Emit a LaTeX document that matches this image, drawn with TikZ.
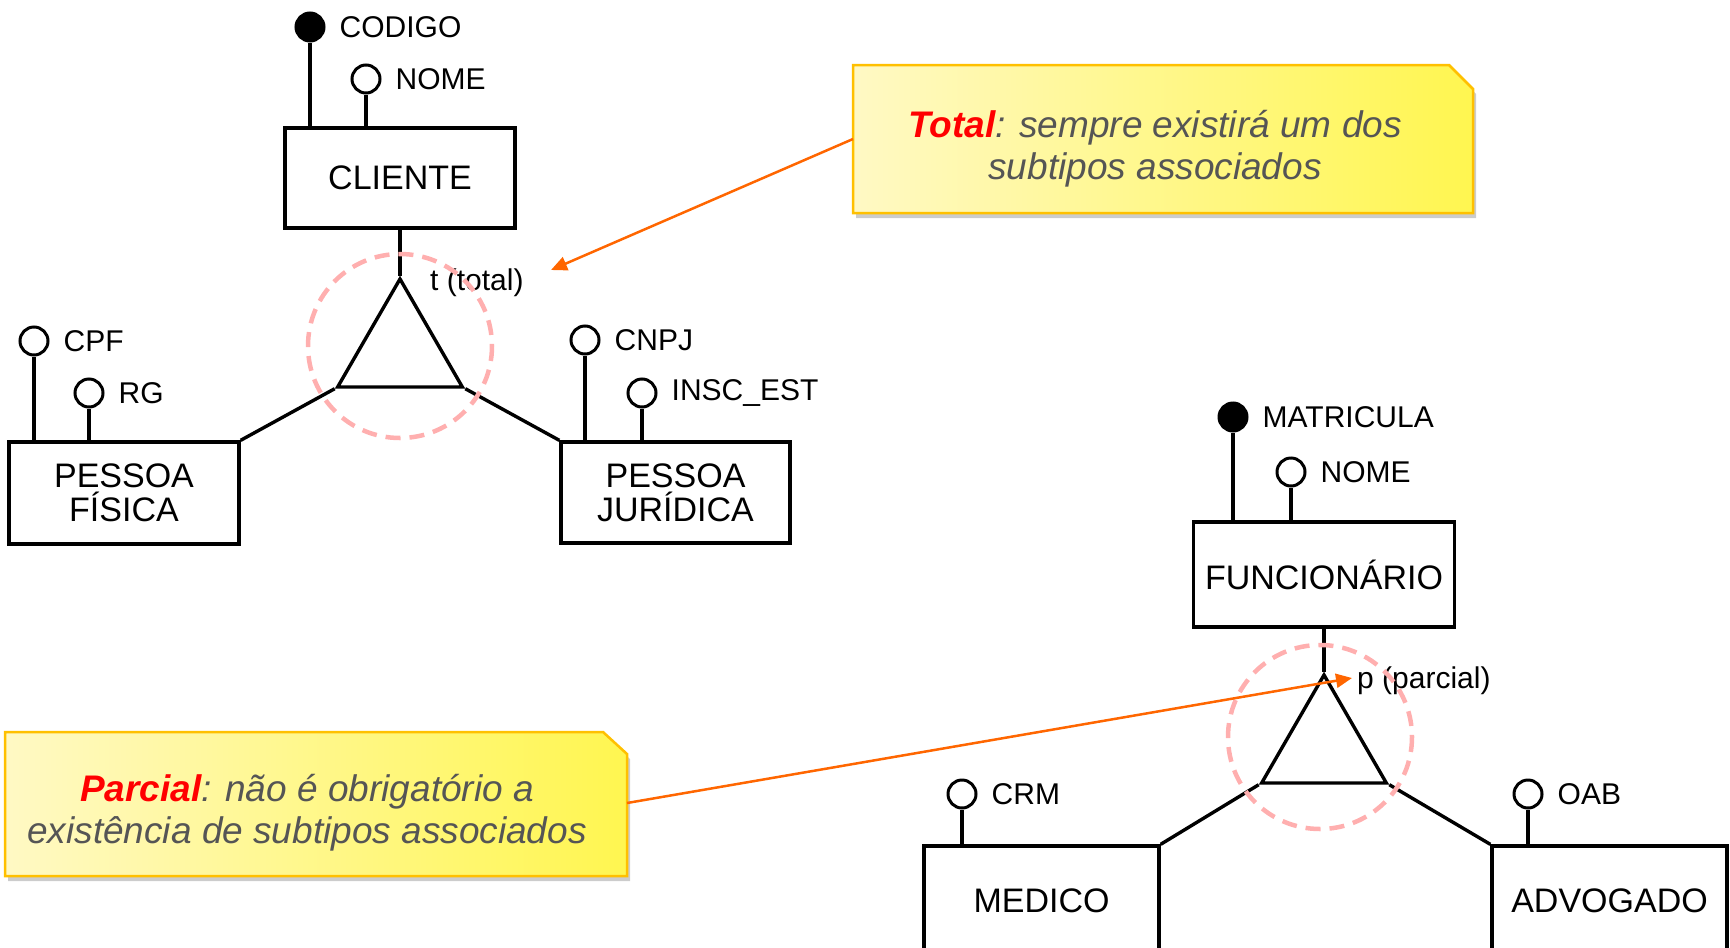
\documentclass[tikz,border=0pt]{standalone}
\usepackage{fontspec}
\setmainfont{Liberation Sans}
\usepackage{tikz}
\usetikzlibrary{arrows.meta, positioning, shapes.geometric, shadows}
\definecolor{noteedge}{RGB}{255,192,0}
\definecolor{noteleft}{RGB}{255,249,196}
\definecolor{noteright}{RGB}{255,246,80}
\definecolor{notegray}{RGB}{85,85,85}
\definecolor{pointerorange}{RGB}{255,102,0}
\definecolor{ringpink}{RGB}{255,175,175}

\begin{document}
\begin{tikzpicture}[x=1pt, y=-1pt,
        entity/.style={draw, line width=3.4pt, inner sep=0pt, align=center, font=\fontsize{34}{34}\selectfont},
        attr/.style={circle, draw, line width=3pt, fill=white, minimum size=28pt, inner sep=0pt,
            label={[font=\fontsize{30}{30}\selectfont, label distance=12pt, inner sep=2pt]east:#1}},
        keyattr/.style={attr=#1, fill=black},
        spec/.style={regular polygon, regular polygon sides=3, draw, line width=3.4pt, minimum size=144pt, inner sep=0pt},
        link/.style={line width=3.4pt},
        ring/.style={draw=ringpink, line width=4.5pt, dash pattern=on 15pt off 9pt},
        note/.style={draw=noteedge, line width=2.5pt, line join=miter, left color=noteleft, right color=noteright,
            drop shadow={shadow xshift=3pt, shadow yshift=-5pt, opacity=0.4}},
        notetext/.style={align=center, font=\fontsize{37}{42}\selectfont\itshape, text=notegray, inner sep=0pt},
        pointer/.style={draw=pointerorange, line width=2.5pt, -{Triangle[length=16pt, width=14pt]}}]
        \clip (0,0) rectangle (1730,948);

        \node[entity, minimum width=230pt, minimum height=100pt] (cli) at (400,178) {CLIENTE};
        \node[keyattr=CODIGO] (cod) at (310,27) {};
        \node[attr=NOME] (nome1) at (366,79) {};
        \draw[link] (cod) -- (cod |- cli.north);
        \draw[link] (nome1) -- (nome1 |- cli.north);

        \node[spec] (tri1) at (400,351) {};
        \draw[link] (cli.south) -- (tri1.corner 1);
        \node[anchor=west, inner sep=2pt, font=\fontsize{30}{30}\selectfont] (tlab) at (428,283) {t (total)};

        \node[entity, minimum width=230pt, minimum height=102pt] (pf) at (124,493) {PESSOA\\FÍSICA};
        \node[attr=CPF] (cpf) at (34,341) {};
        \node[attr=RG] (rg) at (89,393) {};
        \draw[link] (cpf) -- (cpf |- pf.north);
        \draw[link] (rg) -- (rg |- pf.north);

        \node[entity, minimum width=229pt, minimum height=101pt] (pj) at (675.5,492.5) {PESSOA\\JURÍDICA};
        \node[attr=CNPJ] (cnpj) at (585,340) {};
        \node[attr=INSC\_EST] (insc) at (642,393) {};
        \draw[link] (cnpj) -- (cnpj |- pj.north);
        \draw[link] (insc) -- (insc |- pj.north);

        \draw[link] (pf.north east) -- (tri1.corner 2);
        \draw[link] (pj.north west) -- (tri1.corner 3);

        \node[entity, minimum width=261pt, minimum height=105pt] (func) at (1324,574.5) {FUNCIONÁRIO};
        \node[keyattr=MATRICULA] (mat) at (1233,417) {};
        \node[attr=NOME] (nome2) at (1291,472) {};
        \draw[link] (mat) -- (mat |- func.north);
        \draw[link] (nome2) -- (nome2 |- func.north);

        \node[spec] (tri2) at (1324,747) {};
        \draw[link] (func.south) -- (tri2.corner 1);
        \node[anchor=west, inner sep=2pt, font=\fontsize{30}{30}\selectfont] (plab) at (1355,681) {p (parcial)};

        \node[entity, minimum width=235pt, minimum height=110pt] (med) at (1041.5,901) {MEDICO};
        \node[attr=CRM] (crm) at (962,794) {};
        \draw[link] (crm) -- (crm |- med.north);

        \node[entity, minimum width=235pt, minimum height=110pt] (adv) at (1609.5,901) {ADVOGADO};
        \node[attr=OAB] (oab) at (1528,794) {};
        \draw[link] (oab) -- (oab |- adv.north);

        \draw[link] (med.north east) -- (tri2.corner 2);
        \draw[link] (adv.north west) -- (tri2.corner 3);

        \draw[ring] (400,346) circle[radius=92];
        \draw[ring] (1320,737) circle[radius=92];

        \draw[note] (853,65) -- (1449,65) -- (1473,89) -- (1473,213) -- (853,213) -- cycle;
        \node[notetext] (tottext) at (1155,149)
            {\textbf{\color{red}Total}: sempre existirá um dos\\subtipos associados};
        \draw[note] (5,732) -- (603,732) -- (627,754) -- (627,876) -- (5,876) -- cycle;
        \node[notetext] (parctext) at (307,813)
            {\textbf{\color{red}Parcial}: não é obrigatório a\\existência de subtipos associados};

        \coordinate (totedge) at (853,139);
        \coordinate (parcedge) at (627,803);
        \coordinate (ttip) at (551,270);
        \coordinate (ptip) at (1352,678);
        \draw[pointer] (totedge) -- (ttip);
        \draw[pointer] (parcedge) -- (ptip);
    \end{tikzpicture}
\end{document}
